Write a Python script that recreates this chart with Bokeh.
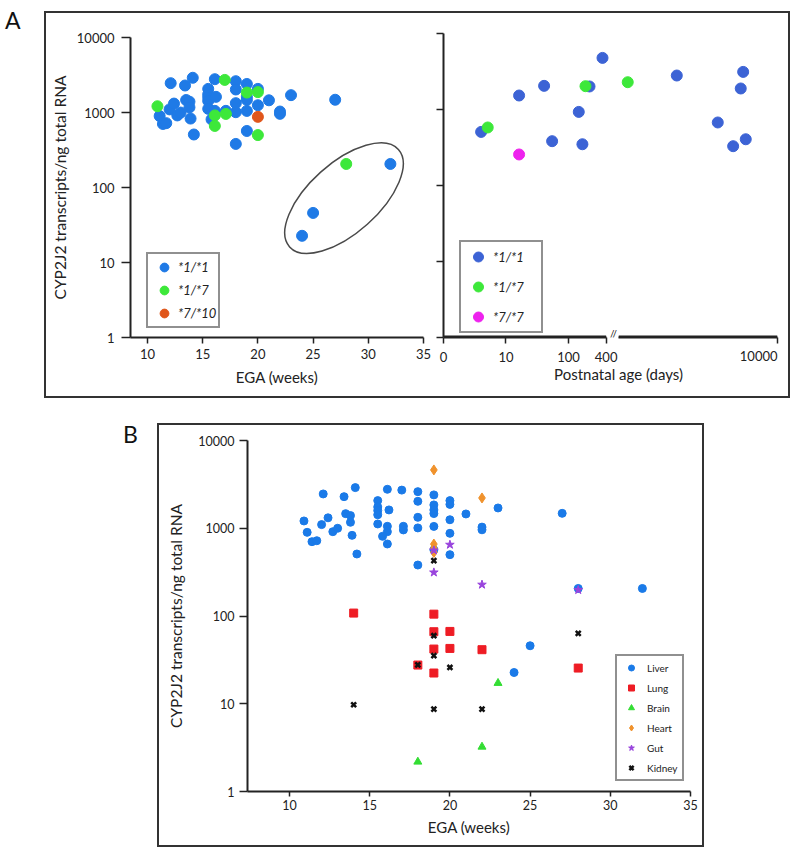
from bokeh.plotting import figure
from bokeh.models import (Range1d, FixedTicker, NumeralTickFormatter, CustomJSTickFormatter,
                          LinearAxis, LogScale, Legend, LegendItem, Label, Div, Spacer, Row, Column,
                          ColumnDataSource)
from bokeh.embed import file_html
from bokeh.resources import INLINE

# ---------------- data ----------------
# Fetal liver samples: estimated gestational age (weeks), CYP2J2 transcripts/ng RNA, genotype
liver_ega = [10.9, 11.1, 11.4, 11.7, 12.0, 12.4, 12.1, 12.7, 13.0, 13.4, 13.5, 13.8, 13.8, 13.9,
             14.1, 14.2, 15.5, 15.5, 15.5, 15.5, 15.5, 16.1, 16.2, 16.1, 16.1, 15.8, 16.1, 17.0,
             17.1, 17.1, 18.0, 18.0, 18.0, 18.0, 18.0, 19.0, 19.0, 19.0, 19.0, 19.0, 19.0, 20.0,
             20.0, 20.0, 20.0, 20.0, 21.0, 22.0, 22.0, 23.0, 27.0, 28.0, 32.0, 25.0, 24.0]
liver_val = [1211, 898, 703, 721, 1100, 1315, 2460, 914, 999, 2291, 1467, 1395, 1170, 830,
             2904, 509, 2065, 1750, 1590, 1425, 1119, 2780, 1617, 1052, 914, 809, 662, 2720,
             1052, 957, 2614, 2027, 1332, 1009, 381, 2400, 1845, 1617, 1470, 1050, 567, 2065,
             1870, 1250, 875, 500, 1455, 1030, 960, 1703, 1479, 206, 206, 45.8, 22.7]
liver_genotype = ["*1/*7", "*1/*1", "*1/*1", "*1/*1", "*1/*1", "*1/*1", "*1/*1", "*1/*1",
                  "*1/*1", "*1/*1", "*1/*1", "*1/*1", "*1/*1", "*1/*1", "*1/*1", "*1/*1",
                  "*1/*1", "*1/*1", "*1/*1", "*1/*1", "*1/*1", "*1/*1", "*1/*1", "*1/*1",
                  "*1/*7", "*1/*1", "*1/*7", "*1/*7", "*1/*1", "*1/*7", "*1/*1", "*1/*1",
                  "*1/*1", "*1/*1", "*1/*1", "*1/*1", "*1/*7", "*1/*1", "*1/*1", "*1/*1",
                  "*1/*1", "*1/*1", "*1/*7", "*1/*1", "*7/*10", "*1/*7", "*1/*1", "*1/*1",
                  "*1/*1", "*1/*1", "*1/*1", "*1/*7", "*1/*1", "*1/*1", "*1/*1"]

# Postnatal liver samples: age (days), transcripts, genotype
post_days = [4.0, 5.1, 16.2, 16.2, 40.7, 54.7, 146, 167, 187, 217, 350,
             558, 1436, 3163, 4254, 4925, 5160, 5425]
post_val = [507, 580, 1528, 256, 2047, 383, 930, 349, 2027, 2009, 4775,
            2286, 2800, 675, 329, 1890, 3125, 406]
post_genotype = ["*1/*1", "*1/*7", "*1/*1", "*7/*7", "*1/*1", "*1/*1", "*1/*1", "*1/*1",
                 "*1/*7", "*1/*1", "*1/*1", "*1/*7", "*1/*1", "*1/*1", "*1/*1", "*1/*1",
                 "*1/*1", "*1/*1"]

# Other fetal tissues
lung_ega = [14, 19, 19, 19, 19, 20, 20, 18, 22, 28]
lung_val = [108, 105, 66.2, 42, 22.4, 66.7, 42.7, 27.6, 41.3, 25.5]
brain_ega = [18, 22, 23]
brain_val = [2.18, 3.23, 17.2]
heart_ega = [19, 22, 19, 19, 19]
heart_val = [4620, 2215, 660, 590, 530]
gut_ega = [19, 20, 22, 28, 19]
gut_val = [314, 650, 228, 198, 560]
kidney_ega = [19, 19, 19, 18, 20, 14, 19, 22, 28]
kidney_val = [427, 59.6, 35.3, 27.8, 25.9, 9.74, 8.7, 8.7, 63.3]

ega_ticks = [10, 15, 20, 25, 30, 35]
value_ticks = [1, 10, 100, 1000, 10000]
early_day_ticks = [1, 10, 100, 400]
late_day_ticks = [10000]
BREAK_DAY = 400

genotypes_fetal = ["*1/*1", "*1/*7", "*7/*10"]
genotypes_post = ["*1/*1", "*1/*7", "*7/*7"]
colors_fetal = {"*1/*1": "#1f7ae6", "*1/*7": "#3de83a", "*7/*10": "#e0561b"}
colors_post = {"*1/*1": "#3c63d5", "*1/*7": "#3de83a", "*7/*7": "#ee22ee"}

# circled group in panel A (annotation): centre in data units
ELLIPSE_EGA, ELLIPSE_VAL = 27.8, 72

FONT = "Lato"
INK = "#222222"
Y_LABEL = "CYP2J2 transcripts/ng total RNA"


def subset(xs, ys, keys, key):
    return dict(x=[x for x, k in zip(xs, keys) if k == key],
                y=[y for y, k in zip(ys, keys) if k == key])


def style_axis(ax, tick_out, tick_px, label_px, standoff, label_standoff, line_w=2):
    ax.axis_line_color = INK
    ax.axis_line_width = line_w
    ax.major_tick_line_color = INK
    ax.major_tick_line_width = 1.5
    ax.major_tick_in = 0
    ax.major_tick_out = tick_out
    ax.minor_tick_line_color = None
    ax.major_label_text_font = FONT
    ax.major_label_text_font_size = f"{tick_px}px"
    ax.major_label_text_color = INK
    ax.major_label_standoff = standoff
    ax.axis_label_text_font = FONT
    ax.axis_label_text_font_size = f"{label_px}px"
    ax.axis_label_text_font_style = "normal"
    ax.axis_label_text_color = INK
    ax.axis_label_standoff = label_standoff


def base_fig(**kw):
    p = figure(output_backend="svg", toolbar_location=None, **kw)
    p.outline_line_color = None
    p.xgrid.visible = False
    p.ygrid.visible = False
    return p


def style_legend(leg, **kw):
    leg.border_line_color = INK
    leg.border_line_width = 2
    leg.margin = 0
    leg.label_text_font = FONT
    leg.label_text_color = INK
    leg.background_fill_color = "white"
    leg.background_fill_alpha = 1
    for k, v in kw.items():
        setattr(leg, k, v)


# ---------------- Panel A, left: fetal liver by genotype ----------------
pA1 = base_fig(width=387, height=383, x_range=Range1d(8.46, 35), y_range=Range1d(1, 10000),
               y_axis_type="log", min_border_left=84, min_border_right=10,
               min_border_top=24, min_border_bottom=59)
itemsA1 = []
for g in genotypes_fetal:
    c = colors_fetal[g]
    r = pA1.scatter("x", "y", source=ColumnDataSource(subset(liver_ega, liver_val, liver_genotype, g)),
                    marker="circle", size=11, fill_color=c, line_color=c)
    itemsA1.append(LegendItem(label=g, renderers=[r]))
pA1.ellipse(x=[ELLIPSE_EGA], y=[ELLIPSE_VAL], width=146, height=70, angle=0.73,
            width_units="screen", height_units="screen",
            fill_color=None, line_color="#4a4a4a", line_width=1.5)
pA1.xaxis.ticker = FixedTicker(ticks=ega_ticks)
pA1.yaxis.ticker = FixedTicker(ticks=value_ticks)
pA1.yaxis.formatter = NumeralTickFormatter(format="0")
pA1.xaxis.axis_label = "EGA (weeks)"
pA1.yaxis.axis_label = Y_LABEL
style_axis(pA1.xaxis[0], 6, 13, 15, 5, 6)
style_axis(pA1.yaxis[0], 9, 13, 15.5, 7, 5)
legA1 = Legend(items=itemsA1, location=(16, 9))
style_legend(legA1, padding=2, spacing=1, glyph_width=28, glyph_height=22, label_height=20,
             label_standoff=0, label_width=30, label_text_font_size="13px",
             label_text_font_style="italic")
pA1.add_layout(legA1)

# ---------------- Panel A, right: postnatal liver on a broken log axis ----------------
# two side-by-side plots: 0..400 days and 400..10000 days
early_days = [d for d in post_days if d <= BREAK_DAY]
early_val = [v for d, v in zip(post_days, post_val) if d <= BREAK_DAY]
early_gen = [g for d, g in zip(post_days, post_genotype) if d <= BREAK_DAY]
late_days = [d for d in post_days if d > BREAK_DAY]
late_val = [v for d, v in zip(post_days, post_val) if d > BREAK_DAY]
late_gen = [g for d, g in zip(post_days, post_genotype) if d > BREAK_DAY]

early_range = Range1d(1, 631)
late_range = Range1d(467, 10000)
pA2a = base_fig(width=185, height=360, x_range=early_range, y_range=Range1d(1, 10000),
                x_axis_type=None, y_axis_type="log", min_border_left=10, min_border_right=0,
                min_border_top=20, min_border_bottom=36)
pA2a.x_scale = LogScale()
pA2b = base_fig(width=170, height=360, x_range=late_range, y_range=Range1d(1, 10000),
                x_axis_type=None, y_axis_type=None, min_border_left=0, min_border_right=11,
                min_border_top=20, min_border_bottom=36)
pA2b.x_scale = LogScale()
pA2b.y_scale = LogScale()

# axis rules of the two segments (value 1 = bottom of the frame)
pA2a.segment(x0=[early_day_ticks[0]], y0=[value_ticks[0]], x1=[BREAK_DAY], y1=[value_ticks[0]],
             line_width=4, line_color=INK)
pA2b.segment(x0=[late_range.start], y0=[value_ticks[0]], x1=[late_day_ticks[-1]], y1=[value_ticks[0]],
             line_width=4, line_color=INK)

itemsA2 = []
for g in genotypes_post:
    c = colors_post[g]
    r = pA2a.scatter("x", "y", source=ColumnDataSource(subset(early_days, early_val, early_gen, g)),
                     marker="circle", size=11, fill_color=c, line_color=c)
    itemsA2.append(LegendItem(label=g, renderers=[r]))
    d_late = subset(late_days, late_val, late_gen, g)
    if d_late["x"]:
        pA2b.scatter("x", "y", source=ColumnDataSource(d_late), marker="circle", size=11,
                     fill_color=c, line_color=c)

xa_early = LinearAxis(ticker=FixedTicker(ticks=early_day_ticks), bounds=(1, BREAK_DAY),
                      formatter=CustomJSTickFormatter(code="return tick < 1.5 ? '0' : tick.toFixed(0);"))
style_axis(xa_early, 6, 13, 15, 8, 0)
pA2a.add_layout(xa_early, "below")
xa_late = LinearAxis(ticker=FixedTicker(ticks=late_day_ticks), formatter=NumeralTickFormatter(format="0"),
                     major_label_orientation=0.0001)
style_axis(xa_late, 6, 13, 15, 12, 0)
pA2b.add_layout(xa_late, "below")

ya = pA2a.yaxis[0]
ya.ticker = FixedTicker(ticks=value_ticks)
ya.formatter = CustomJSTickFormatter(code="return ''")
style_axis(ya, 7, 13, 15, 0, 0)

# axis-break marker
pA2a.add_layout(Label(x=BREAK_DAY, y=1, x_offset=7, y_offset=3, text="//", text_font=FONT,
                      text_font_size="11px", text_align="center", text_baseline="middle",
                      text_color=INK))
legA2 = Legend(items=itemsA2, location=(16, 4))
style_legend(legA2, padding=2, spacing=5, glyph_width=30, glyph_height=25, label_height=20,
             label_standoff=0, label_width=46, label_text_font_size="13px",
             label_text_font_style="italic")
pA2a.add_layout(legA2)

post_label = Div(text="Postnatal age (days)", width=355, height=23, margin=(0, 0, 0, 0),
                 styles={"font-size": "15px", "font-family": FONT, "color": INK,
                         "text-align": "center", "text-indent": "16px", "line-height": "2px"})
colA2 = Column(children=[Row(children=[pA2a, pA2b]), post_label])

# ---------------- Panel B: tissues ----------------
pB = base_fig(width=543, height=420, x_range=Range1d(7.38, 35), y_range=Range1d(1, 10000),
              y_axis_type="log", min_border_left=88, min_border_right=12,
              min_border_top=15, min_border_bottom=54)
tissues = [
    ("Liver", liver_ega, liver_val, "circle", 8, "#1a7ae8"),
    ("Lung", lung_ega, lung_val, "square", 8, "#ee1c24"),
    ("Brain", brain_ega, brain_val, "triangle", 8, "#33dd33"),
    ("Heart", heart_ega, heart_val, "diamond", 10, "#f0922c"),
    ("Gut", gut_ega, gut_val, "star", 9, "#9944dd"),
    ("Kidney", kidney_ega, kidney_val, "x", 7, "#111111"),
]
itemsB = []
for name, xs, ys, marker, size, c in tissues:
    kw = dict(line_width=2.5) if marker == "x" else {}
    r = pB.scatter("x", "y", source=ColumnDataSource(dict(x=xs, y=ys)), marker=marker, size=size,
                   fill_color=c, line_color=c, **kw)
    itemsB.append(LegendItem(label=name, renderers=[r]))
pB.xaxis.ticker = FixedTicker(ticks=ega_ticks)
pB.yaxis.ticker = FixedTicker(ticks=value_ticks)
pB.yaxis.formatter = NumeralTickFormatter(format="0")
pB.xaxis.axis_label = "EGA (weeks)"
pB.yaxis.axis_label = Y_LABEL
style_axis(pB.xaxis[0], 5, 12.5, 15, 3, 5)
style_axis(pB.yaxis[0], 8, 12.5, 15.5, 5, 10)
legB = Legend(items=itemsB, location=(368, 10))
style_legend(legB, padding=4, spacing=5, glyph_width=20, glyph_height=15, label_height=15,
             label_standoff=6, label_width=30, label_text_font_size="10px")
pB.add_layout(legB)

# ---------------- page layout ----------------
letter = {"font-size": "23px", "font-family": FONT, "color": "#111"}
divA = Div(text="A", width=34, height=20, styles=dict(letter, **{"line-height": "8px"}))
boxA = Row(children=[pA1, colA2], styles={"border": "2px solid #333"})
rowA = Row(children=[divA, boxA])
divB = Div(text="B", width=29, height=20, styles=dict(letter, **{"line-height": "12px"}))
boxB = Row(children=[pB], styles={"border": "2px solid #333"})
rowB = Row(children=[Spacer(width=118), divB, boxB])
page = Column(children=[Spacer(height=11), rowA, Spacer(height=25), rowB])

with open("out.html", "w") as f:
    f.write(file_html(page, INLINE))
